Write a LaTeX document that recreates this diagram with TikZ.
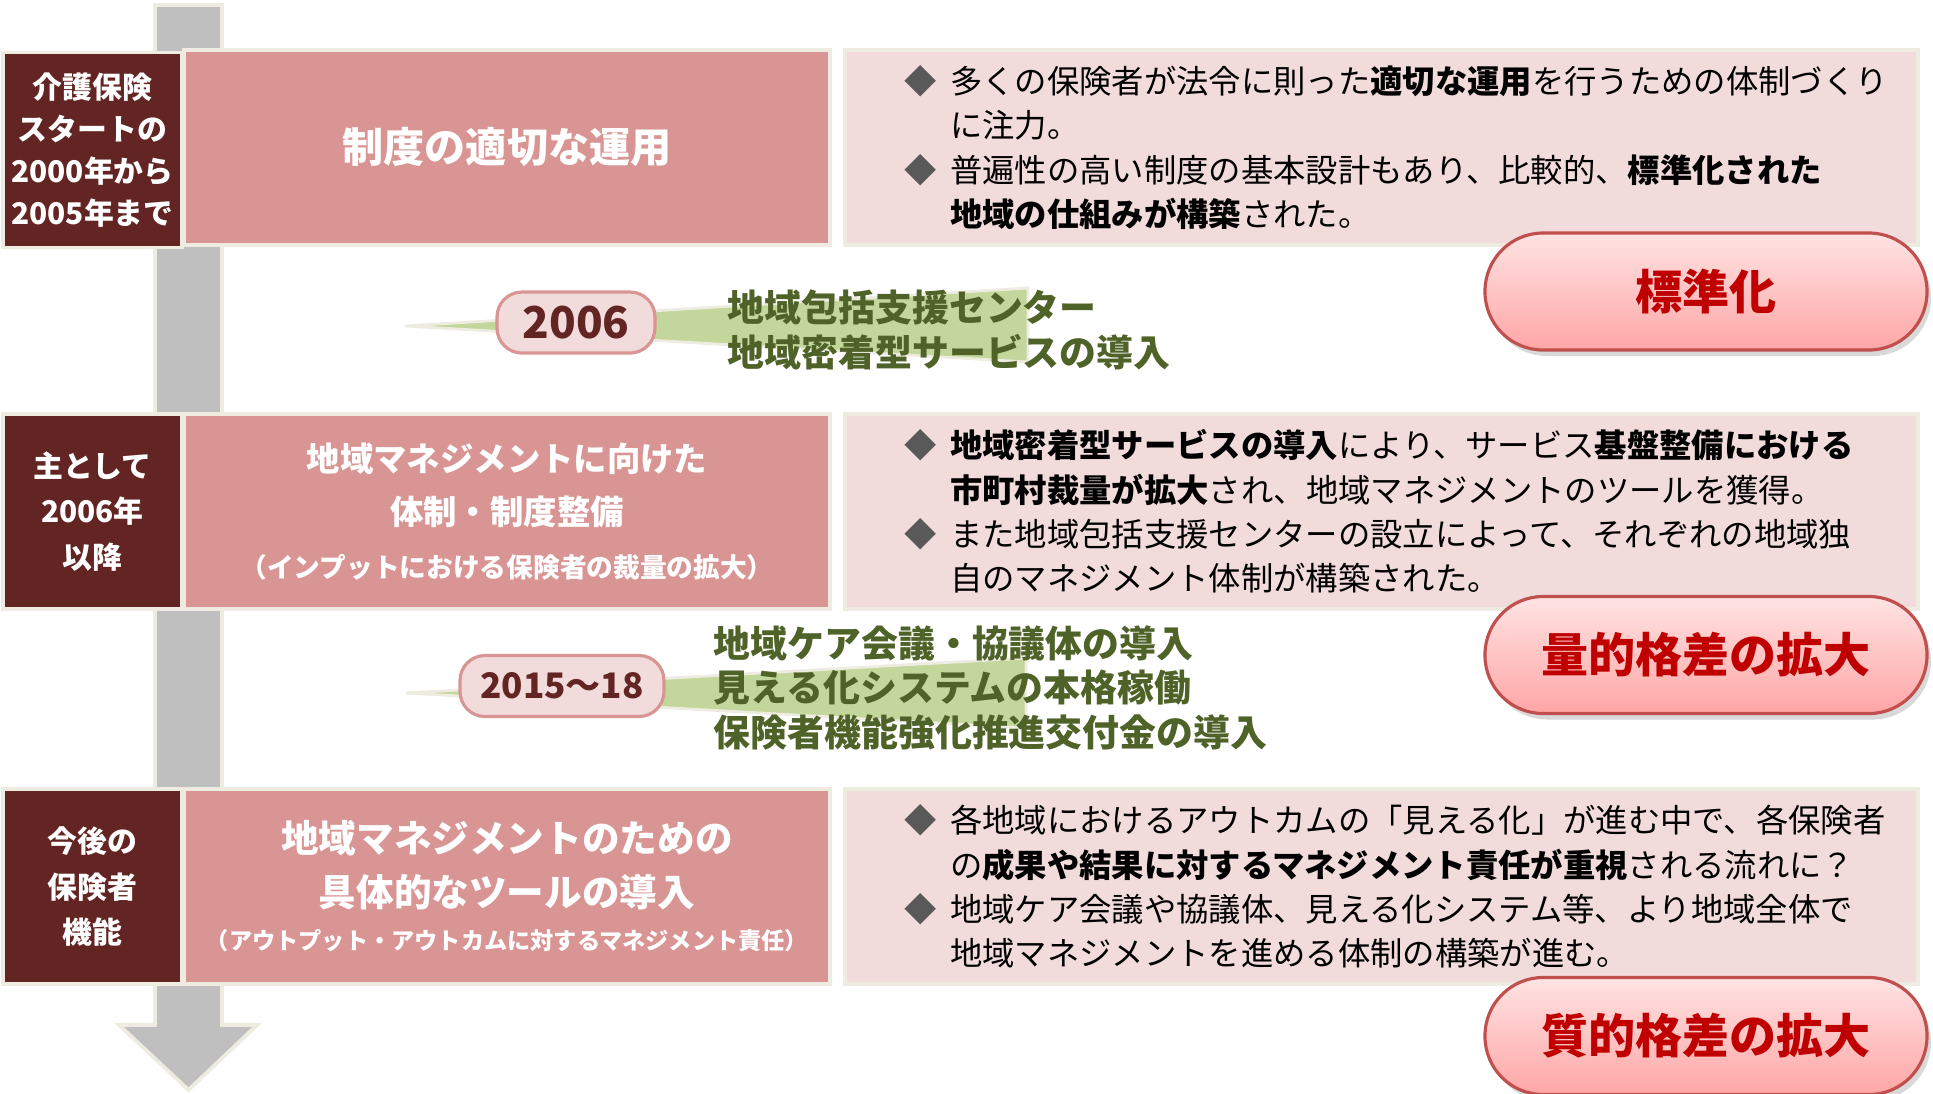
\documentclass[tikz,border=0pt]{standalone}
\usepackage{fontspec}
\setmainfont{Noto Sans CJK JP}
\usepackage{xcolor}
\usetikzlibrary{positioning,calc,shadows}

\definecolor{labred}{HTML}{632523}
\definecolor{ttlpink}{HTML}{D99594}
\definecolor{notepink}{HTML}{F2DCDB}
\definecolor{edgebeige}{HTML}{EEECE1}
\definecolor{bargray}{HTML}{BFBFBF}
\definecolor{wedgegreen}{HTML}{C3D69B}
\definecolor{txtgreen}{HTML}{4F6228}
\definecolor{bulgray}{HTML}{595959}
\definecolor{pilltop}{HTML}{FFE3E3}
\definecolor{pillbot}{HTML}{FFA6A6}
\definecolor{pillline}{HTML}{C0504D}
\definecolor{pilltext}{HTML}{C00000}

\newcommand{\bul}{\makebox[1.4em][l]{\textcolor{bulgray}{◆}}}
\newcommand{\ind}{\hspace*{1.4em}}

\begin{document}
\begin{tikzpicture}[
    lab/.style={rectangle, draw=edgebeige, line width=1.1pt, fill=labred, text=white, font=\fontsize{8.5}{13}\selectfont\bfseries, align=center, minimum width=1.79cm, minimum height=1.95cm, inner sep=0pt},
    ttl/.style={rectangle, draw=edgebeige, line width=1.1pt, fill=ttlpink, text=white, align=center, minimum width=6.46cm, minimum height=1.95cm, inner sep=0pt},
    note/.style={rectangle, draw=edgebeige, line width=1.1pt, fill=notepink, minimum width=10.73cm, minimum height=1.95cm},
    notetext/.style={align=left, font=\fontsize{9.2}{12.6}\selectfont, inner sep=0pt, anchor=west},
    year/.style={rectangle, rounded corners=0.25cm, draw=ttlpink, line width=0.9pt, fill=notepink, text=labred, minimum height=0.61cm, inner sep=0pt},
    event/.style={text=txtgreen, font=\fontsize{10.5}{12.8}\selectfont\bfseries, align=left, anchor=west, inner sep=0pt},
    wedge/.style={fill=wedgegreen, draw=edgebeige, line width=0.8pt},
    pill/.style={rectangle, rounded corners=0.58cm, draw=pillline, line width=0.9pt, top color=pilltop, bottom color=pillbot, text=pilltext, font=\fontsize{13.4}{16}\selectfont\bfseries, minimum width=4.42cm, minimum height=1.17cm, drop shadow={shadow xshift=0.04cm, shadow yshift=-0.06cm, opacity=0.3}}
]
    \useasboundingbox (0,0) rectangle (19.33,-10.93);

    \draw[fill=bargray, draw=edgebeige, line width=1.1pt] (1.55,-0.05) -- (2.22,-0.05) -- (2.22,-10.25) -- (2.57,-10.25) -- (1.885,-10.90) -- (1.19,-10.25) -- (1.55,-10.25) -- cycle;

    \node[lab, font=\fontsize{8.5}{12}\selectfont\bfseries] (lab1) at (0.925,-1.50) {介護保険\\スタートの\\2000年から\\2005年まで};
    \node[ttl, font=\fontsize{11.7}{14}\selectfont\bfseries] (ttl1) at (5.07,-1.475) {制度の適切な運用};
    \node[note] (note1) at (13.815,-1.475) {};
    \node[notetext] (txt1) at ([xshift=0.61cm]note1.west) {\bul 多くの保険者が法令に則った\textbf{適切な運用}を行うための体制づくり\\\ind に注力。\\\bul 普遍性の高い制度の基本設計もあり、比較的、\textbf{標準化された}\\\ind\textbf{地域の仕組みが構築}された。};

    \node[lab] (lab2) at (0.925,-5.115) {主として\\2006年\\以降};
    \node[ttl, font=\fontsize{9.5}{15}\selectfont\bfseries] (ttl2) at (5.07,-5.115) {地域マネジメントに向けた\\体制・制度整備\\{\fontsize{7.6}{9}\selectfont （インプットにおける保険者の裁量の拡大）}};
    \node[note] (note2) at (13.815,-5.115) {};
    \node[notetext] (txt2) at ([xshift=0.61cm]note2.west) {\bul\textbf{地域密着型サービスの導入}により、サービス\textbf{基盤整備における}\\\ind\textbf{市町村裁量が拡大}され、地域マネジメントのツールを獲得。\\\bul また地域包括支援センターの設立によって、それぞれの地域独\\\ind 自のマネジメント体制が構築された。};

    \node[lab] (lab3) at (0.925,-8.865) {今後の\\保険者\\機能};
    \node[ttl, font=\fontsize{10.7}{15.3}\selectfont\bfseries] (ttl3) at (5.07,-8.865) {地域マネジメントのための\\具体的なツールの導入\\[-3pt]{\fontsize{6.6}{8}\selectfont （アウトプット・アウトカムに対するマネジメント責任）}};
    \node[note] (note3) at (13.815,-8.865) {};
    \node[notetext] (txt3) at ([xshift=0.61cm]note3.west) {\bul 各地域におけるアウトカムの「見える化」が進む中で、各保険者\\\ind の\textbf{成果や結果に対するマネジメント責任が重視}される流れに？\\\bul 地域ケア会議や協議体、見える化システム等、より地域全体で\\\ind 地域マネジメントを進める体制の構築が進む。};

    \coordinate (tip1) at (4.05,-3.26);
    \draw[wedge] (tip1) -- (10.28,-2.88) -- (10.28,-3.62) -- cycle;
    \node[year, minimum width=1.58cm, font=\fontsize{12.5}{14}\selectfont\bfseries] (year1) at (5.76,-3.225) {2006};
    \node[event] (event1) at (7.27,-3.30) {地域包括支援センター\\地域密着型サービスの導入};

    \coordinate (tip2) at (4.06,-6.93);
    \draw[wedge] (tip2) -- (10.26,-6.58) -- (10.26,-7.28) -- cycle;
    \node[year, minimum width=2.04cm, font=\fontsize{10}{12}\selectfont\bfseries] (year2) at (5.62,-6.86) {2015～18};
    \node[event] (event2) at (7.13,-6.88) {地域ケア会議・協議体の導入\\見える化システムの本格稼働\\保険者機能強化推進交付金の導入};

    \foreach \n/\y/\txt in {1/-2.915/標準化, 2/-6.55/量的格差の拡大, 3/-10.36/質的格差の拡大}
        \node[pill] (pill\n) at (17.06,\y) {\txt};
\end{tikzpicture}
\end{document}
